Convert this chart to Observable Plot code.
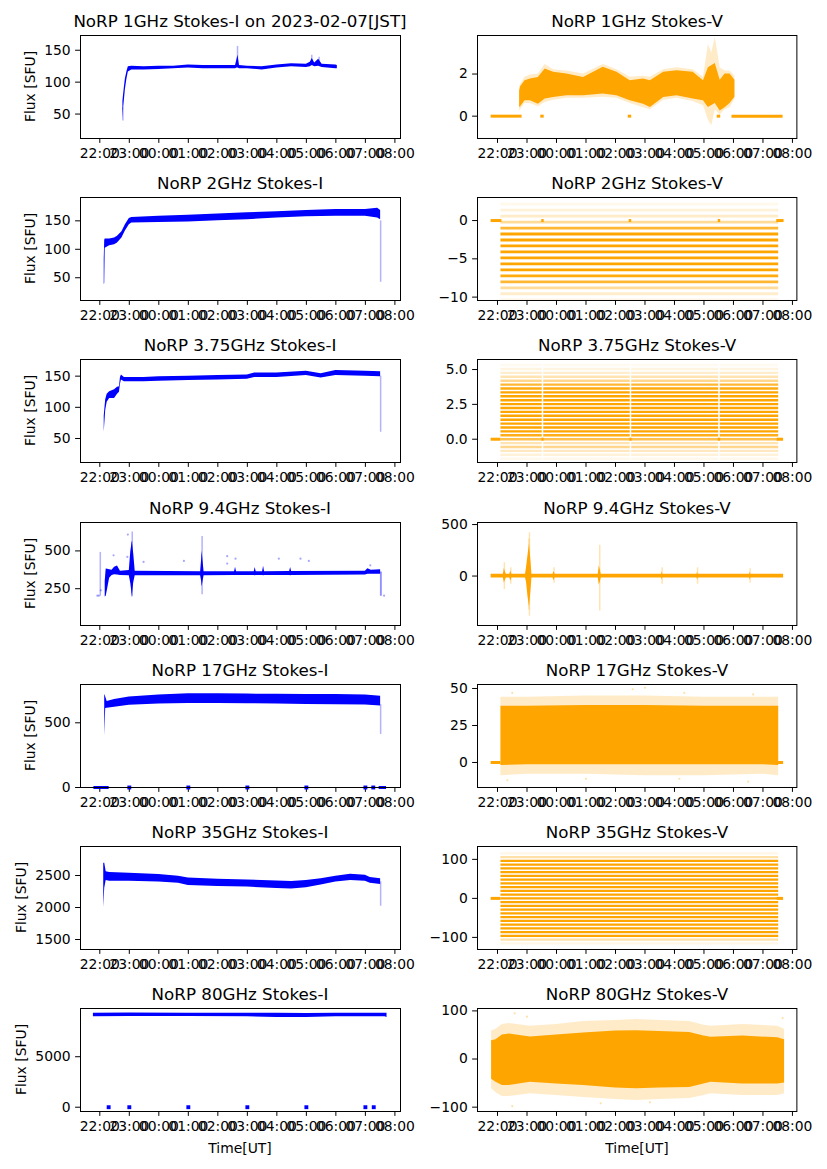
<!DOCTYPE html>
<html><head><meta charset="utf-8">
<script src="https://cdn.jsdelivr.net/npm/d3@7"></script>
<script src="https://cdn.jsdelivr.net/npm/@observablehq/plot@0.6"></script>
<style>
html,body{margin:0;padding:0;background:#fff;}
#fig{position:relative;width:827px;height:1169px;overflow:hidden;background:#fff;}
</style></head><body><div id="fig"></div>
<script>
// ---------------- data ----------------
const hourTicks = ["22:00","23:00","00:00","01:00","02:00","03:00","04:00","05:00","06:00","07:00","08:00"];
const titles = [
  "NoRP 1GHz Stokes-I on 2023-02-07[JST]","NoRP 1GHz Stokes-V",
  "NoRP 2GHz Stokes-I","NoRP 2GHz Stokes-V",
  "NoRP 3.75GHz Stokes-I","NoRP 3.75GHz Stokes-V",
  "NoRP 9.4GHz Stokes-I","NoRP 9.4GHz Stokes-V",
  "NoRP 17GHz Stokes-I","NoRP 17GHz Stokes-V",
  "NoRP 35GHz Stokes-I","NoRP 35GHz Stokes-V",
  "NoRP 80GHz Stokes-I","NoRP 80GHz Stokes-V"];

// 1 GHz Stokes-I  [time, low, high]
const core_1I = [["22:47",42,70],["22:48",55,78],["22:50",72,92],["22:52",88,105],["22:55",104,116],["22:58",116,124],["23:05",119,125],["23:30",119,124],["00:00",120,125],["00:30",121,125],["01:00",122,127],["01:30",121,126],["02:00",121,126],["02:36",121,126],["02:39",122,136],["02:41",122,142],["02:44",121,126],["03:00",121,125],["03:30",119,124],["04:00",122,127],["04:30",124,129],["05:00",123,128],["05:08",124,131],["05:12",126,137],["05:17",124,130],["05:25",125,136],["05:32",123,128],["06:00",121,127],["06:03",121,126]];
const spikes_1I = [["22:47",39,60],["02:40",125,156],["05:11",128,142],["05:26",128,139]];
// 1 GHz Stokes-V
const core_1V = [["22:45",0.41,1.20],["22:47",0.45,1.40],["22:56",0.73,1.68],["23:07",0.73,1.76],["23:23",0.57,1.84],["23:37",0.81,2.24],["23:54",0.89,2.08],["00:21",0.97,2.00],["00:55",0.97,1.84],["01:35",1.05,2.32],["02:03",0.97,2.08],["02:30",0.73,1.68],["02:57",0.57,1.76],["03:11",0.41,1.68],["03:38",0.89,2.08],["04:05",0.97,2.16],["04:38",0.81,2.08],["04:59",0.73,1.68],["05:09",0.41,2.30],["05:23",0.60,2.50],["05:33",0.25,1.70],["05:43",0.40,2.00],["05:53",0.60,2.00],["06:03",0.90,1.70]];
const fringe_1V = [["22:45",0.25,1.35],["22:47",0.30,1.50],["22:56",0.60,1.85],["23:07",0.60,1.95],["23:23",0.45,2.00],["23:37",0.65,2.45],["23:54",0.75,2.20],["00:21",0.85,2.15],["00:55",0.85,2.00],["01:35",0.90,2.45],["02:03",0.85,2.20],["02:30",0.60,1.85],["02:57",0.40,1.90],["03:11",0.30,1.85],["03:38",0.75,2.20],["04:05",0.85,2.30],["04:38",0.70,2.20],["04:59",0.50,1.85],["05:09",-0.20,3.40],["05:16",-0.45,3.00],["05:23",0.30,3.75],["05:33",0.05,2.30],["05:43",0.30,2.15],["05:53",0.40,2.15],["06:03",0.80,1.90]];
const zero_1V = [["21:47","22:50"],["23:28","23:35"],["02:26","02:33"],["05:27","05:34"],["05:57","07:41"]];

// 2 GHz
const core_2I = [["22:09",38,82],["22:10",40,116],["22:11",102,118],["22:20",106,118],["22:30",108,120],["22:36",111,123],["22:45",120,131],["22:52",132,143],["23:00",143,154],["23:05",146,156],["00:00",147,158],["01:00",148,160],["02:00",150,162],["03:00",152,164],["04:00",155,166],["05:00",157,168],["06:00",158,170],["07:00",158,170],["07:25",155,172],["07:31",152,168]];
const spikes_2I = [["07:31",42,150]];
const levels_2V  = [2.14, 1.36, 0.58, -0.20, -0.98, -1.76, -2.54, -3.32, -4.10, -4.88, -5.66, -6.44, -7.22, -8.00, -8.78, -9.56, -10.34];
const density_2V = [0.08, 0.15, 0.22, 0.40, 0.80, 1, 1, 1, 1, 1, 1, 1, 0.95, 0.80, 0.40, 0.20, 0.08];
const span_2V = [["22:07","07:32"]];
const zero_2V = [["21:47","22:09"],["23:30","23:35"],["02:28","02:33"],["05:29","05:34"],["07:28","07:43"]];

// 3.75 GHz
const core_3I = [["22:09",60,86],["22:12",95,112],["22:15",108,121],["22:20",114,125],["22:30",114,128],["22:36",121,132],["22:40",124,133],["22:42",137,148],["22:44",144,152],["22:50",141,148],["23:30",141,148],["00:00",142,149],["01:00",143,150],["02:00",144,151],["03:00",145,152],["03:15",148,155],["04:00",148,155],["05:00",151,158],["05:30",147,154],["06:00",151,159],["07:00",150,158],["07:31",149,157]];
const spikes_3I = [["07:31",60,150]];
const levels_3V  = [5.32, 5.04, 4.76, 4.48, 4.20, 3.92, 3.64, 3.36, 3.08, 2.80, 2.52, 2.24, 1.96, 1.68, 1.40, 1.12, 0.84, 0.56, 0.28, 0.00, -0.28, -0.56, -0.84, -1.12, -1.40];
const density_3V = [0.06, 0.12, 0.20, 0.30, 0.45, 0.80, 0.95, 1, 1, 1, 1, 1, 1, 1, 1, 1, 1, 1, 0.90, 0.70, 0.30, 0.45, 0.25, 0.15, 0.08];
const span_3V = [["22:07","23:31"],["23:34","02:30"],["02:33","05:30"],["05:33","07:32"]];
const zero_3V = [["21:47","22:07"],["23:30","23:35"],["02:29","02:34"],["05:29","05:34"],["07:29","07:42"]];

// 9.4 GHz
const core_9I = [["22:11",195,300],["22:13",200,380],["22:16",250,378],["22:20",320,375],["22:25",338,372],["22:30",342,392],["22:36",340,400],["22:42",338,366],["23:00",335,370],["23:03",285,495],["23:06",205,560],["23:09",290,480],["23:12",335,365],["01:25",335,362],["01:27",300,440],["01:28",262,500],["01:30",300,430],["01:32",335,362],["02:34",337,363],["02:36",337,392],["02:38",337,363],["03:14",337,363],["03:16",335,390],["03:18",337,363],["03:31",337,363],["03:33",335,398],["03:35",337,363],["04:26",337,364],["04:28",335,390],["04:30",337,364],["07:00",340,366],["07:05",345,382],["07:12",345,372],["07:31",345,375]];
const spikes_9I = [["22:01",200,490],["23:05",195,560],["23:06",200,625],["01:28",210,595],["07:31",200,360],["07:32",200,360]];
const outliers_9I = [["21:55",204],["21:58",204],["22:02",239],["22:28",471],["22:56",460],["22:57",608],["23:29",427],["00:51",434],["02:19",465],["02:19",416],["02:36",449],["04:04",449],["04:48",449],["05:05",434],["07:10",405],["07:38",204]];
const core_9V = [["21:47",-18,18],["22:12",-18,18],["22:14",-70,75],["22:16",-40,40],["22:18",-18,18],["22:25",-18,18],["22:27",-50,50],["22:29",-18,18],["22:57",-18,18],["22:59",-60,80],["23:02",-200,200],["23:05",-300,310],["23:08",-150,150],["23:10",-18,18],["23:53",-18,18],["23:55",-45,45],["23:57",-18,18],["01:25",-18,18],["01:27",-90,100],["01:29",-60,60],["01:31",-18,18],["03:34",-18,18],["03:35",-40,45],["03:36",-18,18],["04:46",-18,18],["04:47",-40,40],["04:48",-18,18],["06:33",-18,18],["06:34",-40,40],["06:35",-18,18],["07:42",-18,18]];
const spikes_9V = [["22:14",-130,130],["22:27",-80,80],["23:04",-330,360],["23:05",-390,420],["23:55",-70,80],["01:28",-340,300],["03:35",-80,80],["04:47",-80,80],["06:34",-70,70]];

// 17 GHz
const core_17I = [["22:10",400,720],["22:12",610,700],["22:15",612,665],["22:30",620,680],["23:00",635,700],["00:00",645,715],["01:00",650,725],["02:00",650,725],["03:00",648,722],["04:00",645,720],["05:00",642,718],["06:00",640,718],["07:00",638,715],["07:31",630,705]];
const spikes_17I = [["07:31",410,640]];
const zeroSeg_17I = [["21:48","22:19"],["07:28","07:43"]];
const zeroDot_17I = ["23:00","01:00","03:00","05:00","07:00","07:16"];
const core_17V = [["22:07",-2,38],["23:00",-1.5,38],["01:00",-1.5,38.5],["03:00",-1.5,38.5],["05:00",-1.5,38],["07:00",-1.5,38],["07:32",-2,38]];
const fringe_17V = [["22:07",-9,44],["23:00",-8,44],["01:00",-8,45],["03:00",-9,45],["05:00",-9,44],["07:00",-8,44],["07:32",-9,44]];
const outliers_17V = [["22:30",47],["02:35",49.5],["03:00",50.5],["04:20",47],["06:40",46],["22:20",-12],["01:00",-11],["04:10",-11],["06:30",-13]];
const zero_17V = [["21:47","22:07"],["07:29","07:42"]];

// 35 GHz
const core_35I = [["22:08",2000,2690],["22:10",2300,2690],["22:13",2420,2560],["22:20",2410,2545],["23:00",2410,2535],["00:00",2400,2515],["00:40",2380,2490],["01:00",2345,2460],["02:00",2330,2440],["03:00",2320,2430],["04:00",2295,2415],["04:30",2290,2405],["05:00",2310,2420],["05:30",2350,2450],["06:00",2400,2490],["06:30",2420,2520],["07:00",2410,2505],["07:10",2380,2470],["07:31",2360,2450]];
const spikes_35I = [["07:31",2020,2400]];
const levels_35V  = [115.2, 105.6, 96, 86.4, 76.8, 67.2, 57.6, 48, 38.4, 28.8, 19.2, 9.6, 0, -9.6, -19.2, -28.8, -38.4, -48, -57.6, -67.2, -76.8, -86.4, -96, -105.6, -115.2];
const density_35V = [0.10, 0.35, 1, 1, 1, 1, 1, 1, 1, 1, 1, 1, 1, 1, 1, 1, 1, 1, 1, 1, 1, 1, 1, 0.35, 0.10];
const span_35V = [["22:07","07:32"]];
const zero_35V = [["21:47","22:07"],["07:29","07:42"]];

// 80 GHz
const core_80I = [["21:47",8970,9310],["23:00",8980,9320],["01:00",8980,9310],["03:00",8960,9310],["04:00",8890,9300],["05:00",8890,9280],["06:00",8960,9310],["07:40",8960,9310],["07:44",8880,9310]];
const zeroDot_80I = ["22:18","23:00","01:00","03:00","05:00","07:00","07:17"];
const core_80V = [["21:48",-42,38],["21:57",-48,40],["22:10",-55,50],["22:24",-55,52],["23:07",-48,46],["00:00",-52,50],["00:55",-55,54],["02:00",-60,58],["02:43",-62,59],["03:30",-60,57],["04:31",-59,55],["05:00",-52,48],["05:14",-48,45],["06:19",-52,48],["07:30",-52,44],["07:44",-50,40]];
const fringe_80V = [["21:48",-62,58],["21:57",-70,62],["22:10",-78,72],["22:24",-78,74],["23:07",-72,68],["00:00",-76,72],["00:55",-80,78],["02:00",-84,80],["02:43",-86,82],["03:30",-84,80],["04:31",-82,78],["05:00",-76,70],["05:14",-72,68],["06:19",-76,72],["07:30",-76,68],["07:44",-72,62]];
const outliers_80V = [["22:30",-98],["22:35",95],["23:00",88],["07:40",85],["01:30",-92],["03:10",-90]];

// y axes
const yDomains = [[11.7,173.1],[-1.06,3.83],[10,191],[-10.44,3.01],[11.5,176.7],[-1.67,5.72],[6.6,688],[-480,520],[0,796],[-16.9,52.7],[1344,2953],[-131,133],[-425,9778],[-109,105]];
const yTicks = [[50,100,150],[0,2],[50,100,150],[-10,-5,0],[50,100,150],[0,2.5,5],[250,500],[0,500],[0,500],[0,25,50],[1500,2000,2500],[-100,0,100],[0,5000],[-100,0,100]];

// ---------------- drawing ----------------
const BLUE = "#0000ff", ORANGE = "#ffa500";
function T(s){ const [h,m] = s.split(":").map(Number); return new Date(Date.UTC(2023,1,h>=12?6:7,h,m)); }
const H0 = Date.UTC(2023,1,6,22,0);
const hr = a => new Date(H0 + a*3600e3);
const rowTops = [35,197,359,522,684,846,1008];
const FH = 103;

function stripes(levels, density, spans){
  const out = [];
  levels.forEach((v,i)=>spans.forEach(s=>out.push({v, o:density[i], a:T(s[0]), b:T(s[1])})));
  return out;
}

const panels = [
  {core:core_1I, spikes:spikes_1I},
  {core:core_1V, fringe:fringe_1V, zeroSegs:zero_1V},
  {core:core_2I, spikes:spikes_2I},
  {stripes:stripes(levels_2V,density_2V,span_2V), sw:2.8, zeroSegs:zero_2V},
  {core:core_3I, spikes:spikes_3I},
  {stripes:stripes(levels_3V,density_3V,span_3V), sw:2.4, zeroSegs:zero_3V, fmt:".1f"},
  {core:core_9I, spikes:spikes_9I, outliers:outliers_9I},
  {core:core_9V, spikes:spikes_9V},
  {core:core_17I, spikes:spikes_17I, zeroSegs:zeroSeg_17I, zeroDots:zeroDot_17I},
  {core:core_17V, fringe:fringe_17V, outliers:outliers_17V, zeroSegs:zero_17V},
  {core:core_35I, spikes:spikes_35I},
  {stripes:stripes(levels_35V,density_35V,span_35V), sw:2.2, zeroSegs:zero_35V},
  {core:core_80I, zeroDots:zeroDot_80I},
  {core:core_80V, fringe:fringe_80V, outliers:outliers_80V}
];

const fig = document.getElementById("fig");
panels.forEach((p,i)=>{
  const col = i%2, row = Math.floor(i/2);
  const color = col ? ORANGE : BLUE;
  const fx = col ? 477.3 : 80, fw = col ? 319.4 : 320, fy = rowTops[row];
  const mL = 70, mR = 30, mT = 10, mB = 35;
  const X = d => T(d[0]);
  const marks = [];
  if (p.fringe) marks.push(Plot.areaY(p.fringe, {x:X, y1:d=>d[1], y2:d=>d[2], fill:color, fillOpacity:0.22, clip:true}));
  if (p.stripes) marks.push(Plot.ruleY(p.stripes, {y:"v", x1:"a", x2:"b", stroke:color, strokeOpacity:"o", strokeWidth:p.sw, clip:true}));
  if (p.core) marks.push(Plot.areaY(p.core, {x:X, y1:d=>d[1], y2:d=>d[2], fill:color, clip:true}));
  if (p.spikes) marks.push(Plot.ruleX(p.spikes, {x:X, y1:d=>d[1], y2:d=>d[2], stroke:color, strokeOpacity:0.3, strokeWidth:1.5, clip:true}));
  if (p.outliers) marks.push(Plot.dot(p.outliers, {x:X, y:d=>d[1], r:1.1, fill:color, fillOpacity:0.35, stroke:null}));
  if (p.zeroSegs) marks.push(Plot.ruleY(p.zeroSegs, {y:0, x1:d=>T(d[0]), x2:d=>T(d[1]), stroke:color, strokeWidth:3}));
  if (p.zeroDots) marks.push(Plot.dot(p.zeroDots, {x:d=>T(d), y:0, symbol:"square", r:2.2, fill:color, stroke:null}));
  marks.push(Plot.frame({stroke:"black", strokeWidth:1}));
  const svg = Plot.plot({
    width: mL+fw+mR, height: mT+FH+mB,
    marginLeft:mL, marginRight:mR, marginTop:mT, marginBottom:mB,
    style:{fontFamily:"DejaVu Sans", fontSize:"13.9px", color:"black", background:"transparent", overflow:"visible"},
    x:{type:"utc", domain: col ? [hr(-0.678),hr(10.15)] : [hr(-0.654),hr(10.19)], ticks:hourTicks.map(T), tickFormat:d3.utcFormat("%H:%M"), tickSize:4.9, tickPadding:4.9, label:null},
    y:{domain:yDomains[i], ticks:yTicks[i], tickFormat:d3.format(p.fmt||"d"), tickSize:4.9, tickPadding:4.9, label:null},
    marks
  });
  svg.style.position = "absolute";
  svg.style.left = (fx-mL)+"px";
  svg.style.top = (fy-mT)+"px";
  fig.appendChild(svg);
});

// titles and axis labels as text
const ov = d3.select(fig).append("svg").attr("width",827).attr("height",1169)
  .style("position","absolute").style("left","0px").style("top","0px").style("pointer-events","none")
  .attr("font-family","DejaVu Sans");
titles.forEach((t,i)=>{
  const col=i%2,row=Math.floor(i/2);
  ov.append("text").attr("x", col?637:240).attr("y", rowTops[row]-8).attr("text-anchor","middle").attr("font-size","16.7px").text(t);
});
rowTops.forEach((y,row)=>{
  const bx = row>=5 ? 26 : 34.5;
  ov.append("text").attr("transform",`translate(${bx},${y+FH/2}) rotate(-90)`).attr("text-anchor","middle").attr("font-size","13.9px").text("Flux [SFU]");
});
[240,637].forEach(x=>ov.append("text").attr("x",x).attr("y",1153).attr("text-anchor","middle").attr("font-size","13.9px").text("Time[UT]"));
</script></body></html>
